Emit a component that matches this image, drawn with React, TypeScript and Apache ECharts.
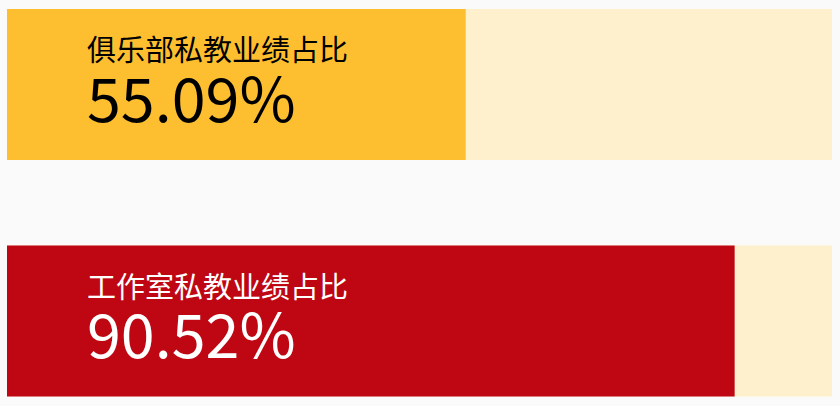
import { useEffect, useRef } from 'react'
import * as echarts from 'echarts'

// categories, top to bottom
const categories = ['俱乐部私教业绩占比', '工作室私教业绩占比']
// share shown in the label
const shareLabels = ['55.09%', '90.52%']
// filled length of each bar, in % of the track
const barLengths = [55.6, 88.2]
const trackMax = 100

const fillColors = ['#FDBF2F', '#BE0713']
const textColors = ['#000000', '#FFFFFF']
const font = '"Noto Sans CJK SC", sans-serif'

export default function App() {
  const ref = useRef<HTMLDivElement>(null)

  useEffect(() => {
    if (!ref.current) return
    const chart = echarts.init(ref.current, undefined, { renderer: 'svg' })

    const option: echarts.EChartsOption = {
      animation: false,
      backgroundColor: '#FAFAFA',
      grid: { left: 7, right: 8, top: 84.5, bottom: 85 },
      xAxis: {
        type: 'value',
        min: 0,
        max: trackMax,
        show: false,
      },
      yAxis: {
        type: 'category',
        data: categories,
        inverse: true,
        boundaryGap: false,
        show: false,
      },
      series: [
        {
          // track
          type: 'bar',
          data: categories.map(() => trackMax),
          barWidth: 151,
          barGap: '-100%',
          clip: false,
          silent: true,
          itemStyle: { color: '#FFF0CD' },
          z: 1,
        },
        {
          // filled share, carries the percentage
          type: 'bar',
          data: barLengths.map((v, i) => ({
            value: v,
            itemStyle: { color: fillColors[i] },
            label: { color: textColors[i] },
          })),
          barWidth: 151,
          barGap: '-100%',
          clip: false,
          z: 2,
          label: {
            show: true,
            position: [80, 86],
            align: 'left',
            verticalAlign: 'middle',
            fontSize: 61,
            fontFamily: font,
            formatter: (p: any) => shareLabels[p.dataIndex],
          },
        },
        {
          // invisible overlay, carries the category title
          type: 'bar',
          data: categories.map((c, i) => ({
            value: trackMax,
            label: { color: textColors[i] },
          })),
          barWidth: 151,
          barGap: '-100%',
          clip: false,
          silent: true,
          itemStyle: { color: 'rgba(0,0,0,0)' },
          z: 3,
          label: {
            show: true,
            position: [80, 39],
            align: 'left',
            verticalAlign: 'middle',
            fontSize: 29,
            fontFamily: font,
            formatter: (p: any) => categories[p.dataIndex],
          },
        },
      ],
    }

    chart.setOption(option)
    return () => chart.dispose()
  }, [])

  return (
    <div
      ref={ref}
      style={{ position: 'fixed', left: 0, top: 0, width: 840, height: 406 }}
    />
  )
}
